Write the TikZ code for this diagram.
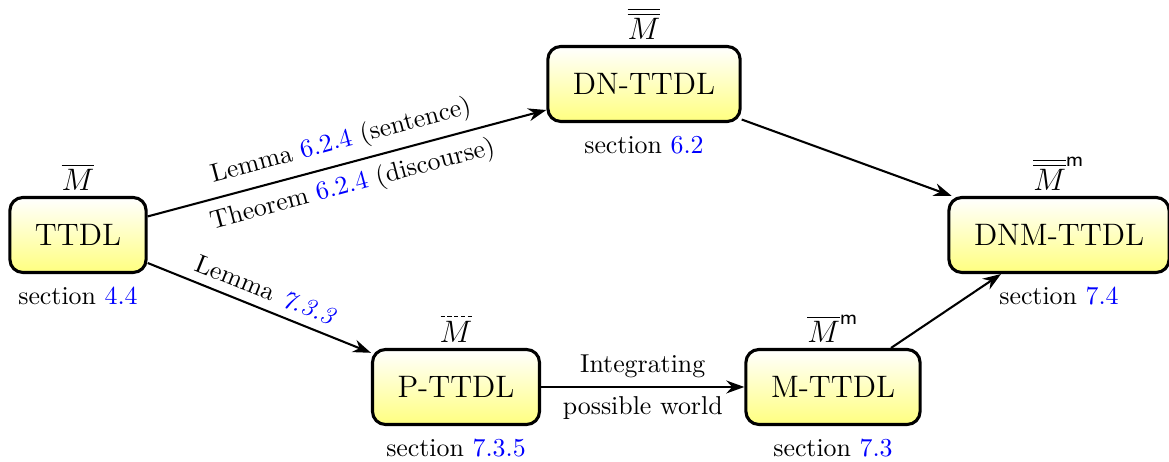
\documentclass[tikz,border=0pt]{standalone}
\usetikzlibrary{arrows.meta,positioning}
\tikzset{
  box/.style={draw, very thick, rounded corners=5pt, top color=white, bottom color=yellow!50,
    font=\large, minimum height=29pt, inner xsep=9.7pt},
  arr/.style={thick, -{Stealth[length=7pt,width=5pt]}},
  sec/.style={below=3pt of #1, inner sep=2pt},
  mlab/.style={above=0pt of #1, font=\large, inner sep=2pt},
  elab/.style={sloped}
}
\begin{document}
\begin{tikzpicture}[x=0.967pt,y=0.967pt]
\useasboundingbox (0,0) rectangle (467.6,184.8);
\node[box] (T)   at (31.2,90.8)  {TTDL};
\node[box] (DN)  at (257.6,151.2) {DN-TTDL};
\node[box] (P)   at (182.4,30)   {P-TTDL};
\node[box] (M)   at (333.2,30)   {M-TTDL};
\node[box] (DNM) at (423.6,90.8) {DNM-TTDL};

\node[mlab=T]   (Tm)   {$\overline{M}$};
\node[mlab=DN]  (DNm)  {$\overline{\overline{M}}$};
\node[mlab=P]   (Pm)   {$\vphantom{\overline{M}}M$};
\draw[line width=0.4pt, dash pattern=on 1.6pt off 1pt]
  ([xshift=2.6pt,yshift=-2.3pt]Pm.north west) -- ([xshift=-2pt,yshift=-2.3pt]Pm.north east);
\node[mlab=M]   (Mm)   {$\overline{M}^{\mathsf{m}}$};
\node[mlab=DNM] (DNMm) {$\overline{\overline{M}}^{\mathsf{m}}$};

\node[sec=T]   (Ts)   {section \textcolor{blue}{4.4}};
\node[sec=DN]  (DNs)  {section \textcolor{blue}{6.2}};
\node[sec=P]   (Ps)   {section \textcolor{blue}{7.3.5}};
\node[sec=M]   (Ms)   {section \textcolor{blue}{7.3}};
\node[sec=DNM] (DNMs) {section \textcolor{blue}{7.4}};

\draw[arr] (T) -- node[elab, above] {Lemma \textcolor{blue}{6.2.4} (sentence)}
                  node[elab, below] {Theorem \textcolor{blue}{6.2.4} (discourse)} (DN);
\draw[arr] (T) -- node[elab, above] {Lemma \textcolor{blue}{\textit{7.3.3}}} (P);
\draw[arr] (P) -- node[above] {Integrating} node[below] {possible world} (M);
\draw[arr] (DN) -- (DNM);
\draw[arr] (M) -- (DNM);
\end{tikzpicture}
\end{document}
